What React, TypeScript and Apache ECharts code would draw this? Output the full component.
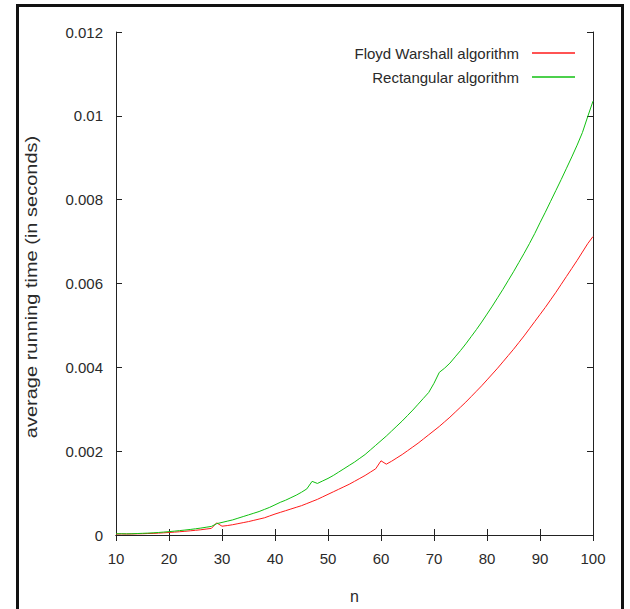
import React, { useEffect, useRef } from "react";
import * as echarts from "echarts";

const nValues = [
  10, 11, 12, 13, 14, 15, 16, 17, 18, 19, 20, 21, 22, 23, 24, 25, 26, 27, 28, 29,
  30, 31, 32, 33, 34, 35, 36, 37, 38, 39, 40, 41, 42, 43, 44, 45, 46, 47, 48, 49,
  50, 51, 52, 53, 54, 55, 56, 57, 58, 59, 60, 61, 62, 63, 64, 65, 66, 67, 68, 69,
  70, 71, 72, 73, 74, 75, 76, 77, 78, 79, 80, 81, 82, 83, 84, 85, 86, 87, 88, 89,
  90, 91, 92, 93, 94, 95, 96, 97, 98, 99, 100,
];

// Floyd Warshall algorithm, average running time in seconds
const floydWarshall = [
  0.00002, 0.000025, 0.000022, 0.000025, 0.000028, 0.00003, 0.000035, 0.000038, 0.000045, 0.000052,
  0.00006, 0.000068, 0.000078, 0.000088, 0.0001, 0.000112, 0.000125, 0.000142, 0.000158, 0.00029,
  0.00021, 0.000225, 0.000245, 0.00027, 0.000295, 0.00032, 0.00035, 0.00038, 0.00041, 0.000455,
  0.0005, 0.00054, 0.00058, 0.00062, 0.00066, 0.0007, 0.00075, 0.0008, 0.00085, 0.00091,
  0.00097, 0.00103, 0.00109, 0.00115, 0.00121, 0.00128, 0.00135, 0.00142, 0.0015, 0.00158,
  0.00177, 0.00169, 0.00176, 0.00184, 0.00192, 0.00201, 0.0021, 0.00219, 0.00229, 0.00239,
  0.00249, 0.00259, 0.0027, 0.00281, 0.00293, 0.00305, 0.00317, 0.0033, 0.00343, 0.00356,
  0.0037, 0.00384, 0.00398, 0.00413, 0.00428, 0.00443, 0.00459, 0.00475, 0.00492, 0.00509,
  0.00526, 0.00543, 0.00561, 0.00579, 0.00598, 0.00617, 0.00636, 0.00655, 0.00675, 0.00695,
  0.00712,
];

// Rectangular algorithm, average running time in seconds
const rectangular = [
  0.00003, 0.00003, 0.000028, 0.00003, 0.000035, 0.00004, 0.000045, 0.000052, 0.00006, 0.00007,
  0.00008, 0.000092, 0.000105, 0.000118, 0.000132, 0.000148, 0.000165, 0.000185, 0.000205, 0.00027,
  0.0003, 0.00033, 0.00036, 0.0004, 0.00044, 0.00048, 0.00052, 0.00056, 0.00061, 0.00066,
  0.00072, 0.00078, 0.00083, 0.00089, 0.00095, 0.00102, 0.0011, 0.00128, 0.00123, 0.00129,
  0.00135, 0.00142, 0.0015, 0.00158, 0.00166, 0.00174, 0.00183, 0.00192, 0.00203, 0.00214,
  0.00225, 0.00236, 0.00248, 0.0026, 0.00272, 0.00285, 0.00298, 0.00312, 0.00326, 0.0034,
  0.00362, 0.00388, 0.00398, 0.0041, 0.00425, 0.0044, 0.00456, 0.00473, 0.0049, 0.00508,
  0.00527, 0.00546, 0.00566, 0.00586, 0.00607, 0.00628, 0.0065, 0.00672, 0.00695, 0.00719,
  0.00745, 0.0077, 0.00796, 0.00822, 0.00848, 0.00875, 0.00902, 0.0093, 0.0096, 0.00998,
  0.01035,
];

const seriesNames = ["Floyd Warshall algorithm", "Rectangular algorithm"];
const xTicks = { min: 10, max: 100, interval: 10 };
const yTicks = { min: 0, max: 0.012, interval: 0.002 };
const yTitle = "average running time (in seconds)";
const xTitle = "n";

const FONT = "Liberation Sans, Arial, sans-serif";
const TEXT_COLOR = "#2a2a2a";

export default function App() {
  const ref = useRef<HTMLDivElement>(null);

  useEffect(() => {
    if (!ref.current) return;
    const chart = echarts.init(ref.current, undefined, { renderer: "svg" });

    const axisCommon = {
      axisLine: { show: true, lineStyle: { color: "#222", width: 1 } },
      axisTick: { show: true, inside: true, length: 6, lineStyle: { color: "#222", width: 1 } },
      splitLine: { show: false },
    };

    chart.setOption({
      animation: false,
      backgroundColor: "#fff",
      grid: { left: 116, right: 37, top: 32, bottom: 73, containLabel: false },
      legend: {
        orient: "vertical",
        align: "right",
        right: 50,
        top: 39,
        itemWidth: 43,
        itemHeight: 1.5,
        itemGap: 6,
        icon: "rect",
        textStyle: { fontFamily: FONT, fontSize: 15, color: TEXT_COLOR, lineHeight: 18, padding: [0, 8, 0, 0] },
        data: seriesNames,
      },
      graphic: [
        {
          type: "rect",
          shape: { x: 17.5, y: 5.5, width: 605, height: 640 },
          style: { fill: "none", stroke: "#111", lineWidth: 3 },
          silent: true,
        },
        {
          type: "text",
          x: 32,
          y: 287,
          rotation: Math.PI / 2,
          scaleX: 1.25,
          scaleY: 1,
          style: {
            text: yTitle,
            fontFamily: FONT,
            fontSize: 16,
            fill: TEXT_COLOR,
            align: "center",
            verticalAlign: "middle",
          },
          silent: true,
        },
      ],
      xAxis: [
        {
          type: "value",
          position: "bottom",
          ...xTicks,
          ...axisCommon,
          name: xTitle,
          nameLocation: "middle",
          nameGap: 53,
          nameTextStyle: { fontFamily: FONT, fontSize: 16, color: TEXT_COLOR },
          axisLabel: { fontFamily: FONT, fontSize: 15, color: TEXT_COLOR, margin: 16 },
        },
        {
          type: "value",
          position: "top",
          ...xTicks,
          ...axisCommon,
          axisLabel: { show: false },
        },
      ],
      yAxis: [
        {
          type: "value",
          position: "left",
          ...yTicks,
          ...axisCommon,
          axisLabel: { fontFamily: FONT, fontSize: 15, color: TEXT_COLOR, margin: 13 },
        },
        {
          type: "value",
          position: "right",
          ...yTicks,
          ...axisCommon,
          axisLabel: { show: false },
        },
      ],
      series: [
        {
          name: seriesNames[0],
          type: "line",
          xAxisIndex: 0,
          yAxisIndex: 0,
          showSymbol: false,
          symbol: "none",
          lineStyle: { color: "#ff1a1a", width: 1 },
          itemStyle: { color: "#ff1a1a" },
          data: nValues.map((n, i) => [n, floydWarshall[i]]),
        },
        {
          name: seriesNames[1],
          type: "line",
          xAxisIndex: 0,
          yAxisIndex: 0,
          showSymbol: false,
          symbol: "none",
          lineStyle: { color: "#10c010", width: 1 },
          itemStyle: { color: "#10c010" },
          data: nValues.map((n, i) => [n, rectangular[i]]),
        },
      ],
    });

    return () => chart.dispose();
  }, []);

  return (
    <div
      ref={ref}
      style={{ position: "fixed", left: 0, top: 0, width: 630, height: 609, background: "#fff" }}
    />
  );
}
